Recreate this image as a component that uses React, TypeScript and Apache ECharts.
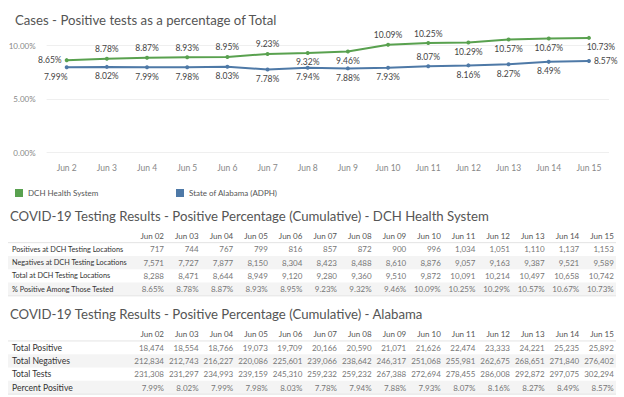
import React, { useEffect, useRef } from 'react';
import * as echarts from 'echarts';

const dates = ['Jun 2', 'Jun 3', 'Jun 4', 'Jun 5', 'Jun 6', 'Jun 7', 'Jun 8', 'Jun 9', 'Jun 10', 'Jun 11', 'Jun 12', 'Jun 13', 'Jun 14', 'Jun 15'];
const dchPct = [8.65, 8.78, 8.87, 8.93, 8.95, 9.23, 9.32, 9.46, 10.09, 10.25, 10.29, 10.57, 10.67, 10.73];
const alPct = [7.99, 8.02, 7.99, 7.98, 8.03, 7.78, 7.94, 7.88, 7.93, 8.07, 8.16, 8.27, 8.49, 8.57];

const tableCols = ['Jun 02', 'Jun 03', 'Jun 04', 'Jun 05', 'Jun 06', 'Jun 07', 'Jun 08', 'Jun 09', 'Jun 10', 'Jun 11', 'Jun 12', 'Jun 13', 'Jun 14', 'Jun 15'];
const dchPositives = [717, 744, 767, 799, 816, 857, 872, 900, 996, 1034, 1051, 1110, 1137, 1153];
const dchNegatives = [7571, 7727, 7877, 8150, 8304, 8423, 8488, 8610, 8876, 9057, 9163, 9387, 9521, 9589];
const dchTotal = [8288, 8471, 8644, 8949, 9120, 9280, 9360, 9510, 9872, 10091, 10214, 10497, 10658, 10742];
const alPositive = [18474, 18554, 18766, 19073, 19709, 20166, 20590, 21071, 21626, 22474, 23333, 24221, 25235, 25892];
const alNegatives = [212834, 212743, 216227, 220086, 225601, 239066, 238642, 246317, 251068, 255981, 262675, 268651, 271840, 276402];
const alTests = [231308, 231297, 234993, 239159, 245310, 259232, 259232, 267388, 272694, 278455, 286008, 292872, 297075, 302294];

const dchRowLabels = ['Positives at DCH Testing Locations', 'Negatives at DCH Testing Locations', 'Total at DCH Testing Locations', '% Positive Among Those Tested'];
const alRowLabels = ['Total Positive', 'Total Negatives', 'Total Tests', 'Percent Positive'];

const chartTitle = 'Cases - Positive tests as a percentage of Total';
const dchTableTitle = 'COVID-19 Testing Results - Positive Percentage (Cumulative) - DCH Health System';
const alTableTitle = 'COVID-19 Testing Results - Positive Percentage (Cumulative) - Alabama';
const seriesNames = ['DCH Health System', 'State of Alabama (ADPH)'];

const dchLabelPos = ['left', 'top', 'top', 'top', 'top', 'top', 'bottom', 'bottom', 'top', 'top', 'bottom', 'bottom', 'bottom', 'bottom'];
const alLabelPos = ['bottom', 'bottom', 'bottom', 'bottom', 'bottom', 'bottom', 'bottom', 'bottom', 'bottom', 'top', 'bottom', 'bottom', 'bottom', 'right'];

const GREEN = '#59a14f';
const BLUE = '#4e79a7';
const FONT = 'Lato, "Open Sans", sans-serif';

const fmtNum = (v: number) => v.toLocaleString('en-US');
const fmtPct = (v: number) => v.toFixed(2) + '%';

function buildTable(top: number, title: string, rowLabels: string[], rows: string[][], labelSize: number) {
  const els: any[] = [];
  const left = 8;
  const right = 616;
  const rowH = 13.3;
  const headerY = top + 20.3;
  els.push({
    type: 'text', x: 10, y: top,
    style: { text: title, fontSize: 13.2, fill: '#555', fontFamily: FONT, verticalAlign: 'middle' },
  });
  rows.forEach((_, k) => {
    if (k % 2 === 1) {
      const cy = headerY + rowH * (k + 1);
      els.push({ type: 'rect', shape: { x: left, y: cy - rowH / 2, width: right - left, height: rowH }, style: { fill: '#f4f4f4' }, z: -1 });
    }
  });
  els.push({ type: 'line', shape: { x1: left, y1: headerY + rowH / 2, x2: right, y2: headerY + rowH / 2 }, style: { stroke: '#e4e4e4', lineWidth: 1 } });
  els.push({ type: 'line', shape: { x1: left, y1: headerY + rowH * 4.5, x2: right, y2: headerY + rowH * 4.5 }, style: { stroke: '#e4e4e4', lineWidth: 1 } });
  tableCols.forEach((c, i) => {
    els.push({
      type: 'text', x: 164 + i * 34.6, y: headerY,
      style: { text: c, fontSize: 8, fill: '#555', fontFamily: FONT, align: 'right', verticalAlign: 'middle' },
    });
  });
  rows.forEach((row, k) => {
    const cy = headerY + rowH * (k + 1);
    els.push({
      type: 'text', x: 12, y: cy,
      style: { text: rowLabels[k], fontSize: labelSize, fill: '#333', fontFamily: FONT, verticalAlign: 'middle' },
    });
    row.forEach((cell, i) => {
      els.push({
        type: 'text', x: 164 + i * 34.6, y: cy,
        style: { text: cell, fontSize: 8, fill: '#777', fontFamily: FONT, align: 'right', verticalAlign: 'middle' },
      });
    });
  });
  return els;
}

export default function App() {
  const ref = useRef<HTMLDivElement>(null);
  useEffect(() => {
    if (!ref.current) return;
    const chart = echarts.init(ref.current, undefined, { renderer: 'svg' });
    const labelStyle = { show: true, fontSize: 8.5, color: '#444', fontFamily: FONT, distance: 3, formatter: (p: any) => fmtPct(p.value) };
    const dchData = dchPct.map((v, i) => ({
      value: v,
      label: { position: dchLabelPos[i], offset: i === dchPct.length - 1 ? [12, 0] : [0, 0] },
    }));
    const alData = alPct.map((v, i) => ({
      value: v,
      label: { position: alLabelPos[i], offset: i === 0 ? [-11, 0] : [0, 0] },
    }));
    const tables = [
      ...buildTable(215.7, dchTableTitle, dchRowLabels, [
        dchPositives.map(fmtNum), dchNegatives.map(fmtNum), dchTotal.map(fmtNum), dchPct.map(fmtPct),
      ], 7.3),
      ...buildTable(314, alTableTitle, alRowLabels, [
        alPositive.map(fmtNum), alNegatives.map(fmtNum), alTests.map(fmtNum), alPct.map(fmtPct),
      ], 8.6),
    ];
    chart.setOption({
      animation: false,
      backgroundColor: '#fff',
      title: {
        text: chartTitle, left: 10, top: 8,
        textStyle: { fontSize: 13.2, fontWeight: 'normal', color: '#555', fontFamily: FONT },
      },
      legend: [
        {
          data: [seriesNames[0]], left: 10, top: 184, icon: 'rect', itemWidth: 8, itemHeight: 8, itemGap: 5,
          textStyle: { fontSize: 8, color: '#555', fontFamily: FONT },
        },
        {
          data: [seriesNames[1]], left: 171, top: 184, icon: 'rect', itemWidth: 8, itemHeight: 8,
          textStyle: { fontSize: 8, color: '#555', fontFamily: FONT },
        },
      ],
      grid: { left: 46.6, right: 15, top: 24.3, bottom: 244.3 },
      xAxis: {
        type: 'category', data: dates, boundaryGap: true,
        axisLine: { show: false }, axisTick: { show: false },
        axisLabel: { fontSize: 8.5, color: '#888', fontFamily: FONT, margin: 11 },
      },
      yAxis: {
        type: 'value', min: 0, max: 12, interval: 5,
        axisLine: { show: false }, axisTick: { show: false },
        axisLabel: {
          fontSize: 8, color: '#888', fontFamily: FONT, margin: 11,
          formatter: (v: number) => (v % 5 === 0 ? fmtPct(v) : ''),
        },
        splitLine: { show: true, showMaxLine: false, lineStyle: { color: '#efefef', width: 1 } },
      },
      series: [
        {
          name: seriesNames[0], type: 'line', data: dchData, color: GREEN,
          symbol: 'circle', symbolSize: 4, lineStyle: { width: 2, color: GREEN }, itemStyle: { color: GREEN },
          label: labelStyle,
        },
        {
          name: seriesNames[1], type: 'line', data: alData, color: BLUE,
          symbol: 'circle', symbolSize: 4, lineStyle: { width: 2, color: BLUE }, itemStyle: { color: BLUE },
          label: labelStyle,
        },
      ],
      graphic: tables,
    });
    return () => chart.dispose();
  }, []);
  return <div ref={ref} style={{ position: 'absolute', left: 0, top: 0, width: 624, height: 397 }} />;
}
